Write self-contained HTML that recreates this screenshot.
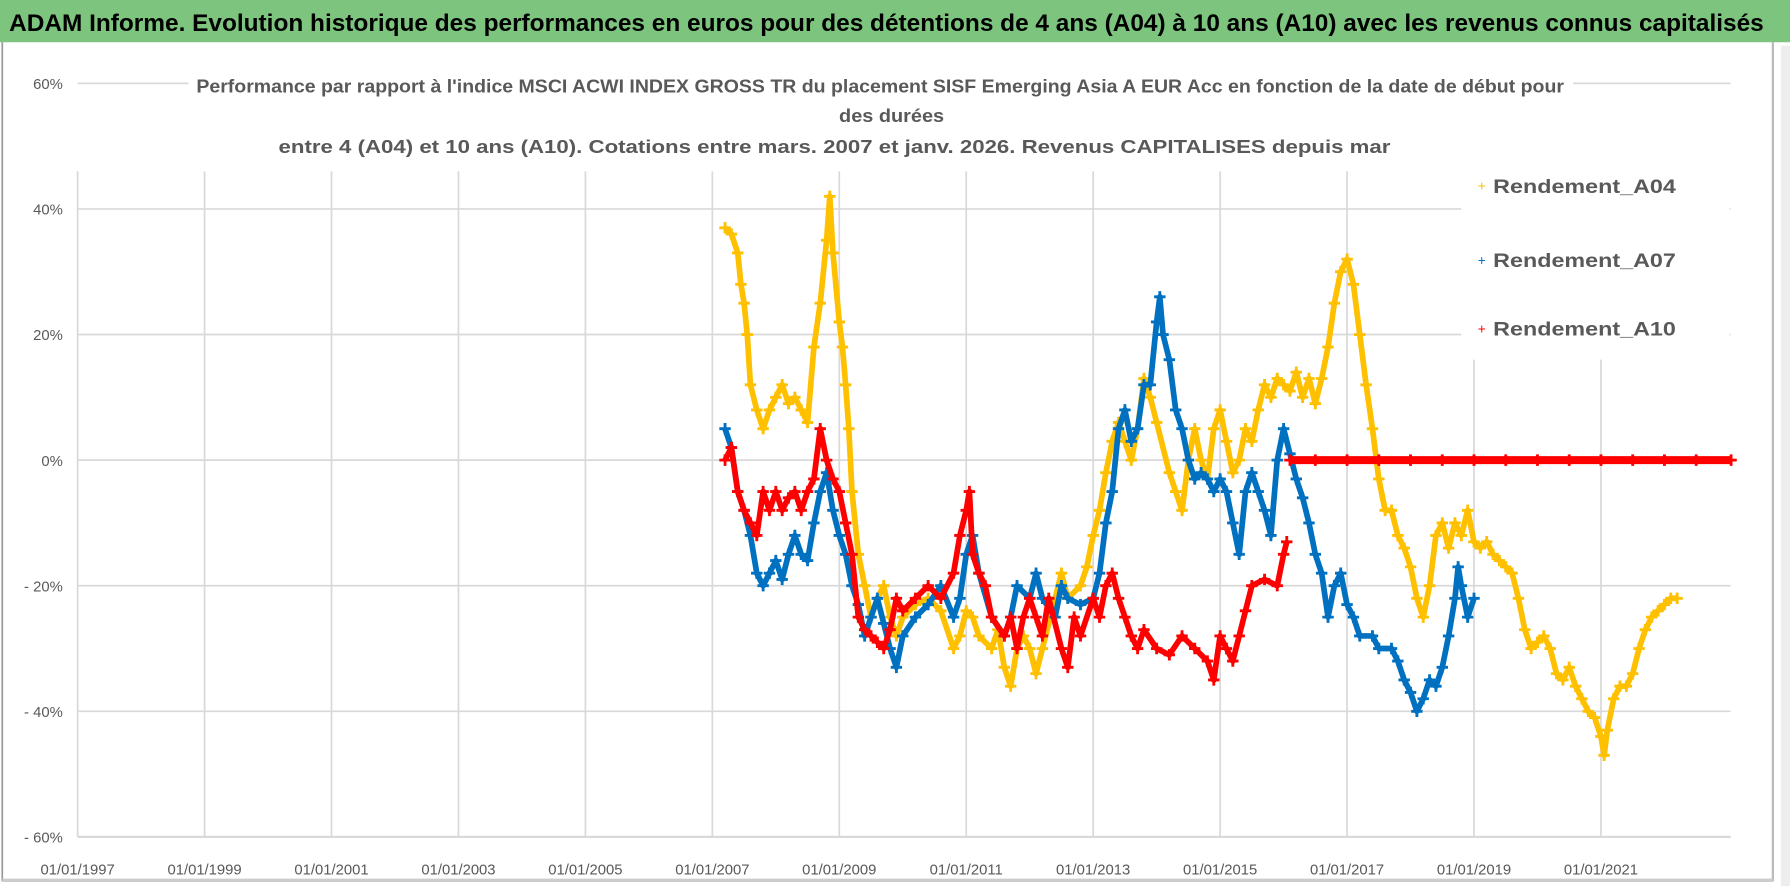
<!DOCTYPE html>
<html><head><meta charset="utf-8"><style>
html,body{margin:0;padding:0;background:#fff;}
svg{display:block;}
text{font-family:"Liberation Sans",sans-serif;}
</style></head><body>
<svg id="chart" width="1790" height="886" viewBox="0 0 1568 776" preserveAspectRatio="none" xmlns="http://www.w3.org/2000/svg">
<rect x="0" y="0" width="1568" height="776" fill="#fff"/>
<rect x="0" y="0" width="1568" height="37" fill="#7DC47E"/>
<text x="8" y="27" font-size="21" font-weight="bold" fill="#000" textLength="1537" lengthAdjust="spacingAndGlyphs">ADAM Informe. Evolution historique des performances en euros pour des détentions de 4 ans (A04) à 10 ans (A10) avec les revenus connus capitalisés</text>
<line x1="2" y1="37" x2="2" y2="772" stroke="#999" stroke-width="1.5"/>
<line x1="1553" y1="37" x2="1553" y2="772" stroke="#bbb" stroke-width="2"/>
<line x1="2" y1="771" x2="1553" y2="771" stroke="#ccc" stroke-width="3"/>
<rect x="1560" y="40" width="8" height="736" fill="#eee"/>
<g id="grid"></g>
<rect x="165" y="62" width="1213" height="88" fill="#fff"/>
<text x="771" y="81" font-size="16" font-weight="bold" fill="#595959" text-anchor="middle" textLength="1198" lengthAdjust="spacingAndGlyphs">Performance par rapport à l'indice MSCI ACWI INDEX GROSS TR  du placement SISF Emerging Asia A EUR Acc en fonction de la date de début pour</text>
<text x="781" y="107" font-size="16" font-weight="bold" fill="#595959" text-anchor="middle" textLength="92" lengthAdjust="spacingAndGlyphs">des durées</text>
<text x="731" y="134" font-size="16" font-weight="bold" fill="#595959" text-anchor="middle" textLength="974" lengthAdjust="spacingAndGlyphs">entre 4 (A04) et 10 ans (A10). Cotations entre mars. 2007 et janv. 2026. Revenus CAPITALISES depuis mar</text>
<g id="axes"></g>
<g id="series"></g>
<rect x="1280" y="140" width="235" height="175" fill="#fff"/>
<g><text x="1298" y="167" font-size="12" fill="#FFC000" text-anchor="middle">+</text><text x="1308" y="169" font-size="17" font-weight="bold" fill="#595959" textLength="160" lengthAdjust="spacingAndGlyphs">Rendement_A04</text></g>
<g><text x="1298" y="232" font-size="12" fill="#0070C0" text-anchor="middle">+</text><text x="1308" y="234" font-size="17" font-weight="bold" fill="#595959" textLength="160" lengthAdjust="spacingAndGlyphs">Rendement_A07</text></g>
<g><text x="1298" y="292" font-size="12" fill="#FF0000" text-anchor="middle">+</text><text x="1308" y="294" font-size="17" font-weight="bold" fill="#595959" textLength="160" lengthAdjust="spacingAndGlyphs">Rendement_A10</text></g>
</svg>
<script>
const yTickValues=[60,40,20,0,-20,-40,-60];
const yTickLabels=["60%","40%","20%","0%","- 20%","- 40%","- 60%"];
const xTickYears=[1997,1999,2001,2003,2005,2007,2009,2011,2013,2015,2017,2019,2021];
const xTickLabels=["01/01/1997","01/01/1999","01/01/2001","01/01/2003","01/01/2005","01/01/2007","01/01/2009","01/01/2011","01/01/2013","01/01/2015","01/01/2017","01/01/2019","01/01/2021"];
const a04Dates=[2007.2,2007.3,2007.4,2007.45,2007.5,2007.55,2007.6,2007.7,2007.8,2007.9,2008.0,2008.1,2008.2,2008.3,2008.4,2008.5,2008.6,2008.7,2008.8,2008.85,2008.9,2009.0,2009.05,2009.1,2009.15,2009.2,2009.3,2009.4,2009.5,2009.6,2009.7,2009.8,2009.9,2010.0,2010.2,2010.4,2010.6,2010.8,2010.9,2011.0,2011.1,2011.2,2011.4,2011.5,2011.6,2011.7,2011.8,2011.9,2012.0,2012.1,2012.2,2012.4,2012.5,2012.6,2012.8,2012.9,2013.0,2013.1,2013.2,2013.3,2013.4,2013.5,2013.6,2013.7,2013.8,2013.9,2014.0,2014.2,2014.3,2014.4,2014.5,2014.6,2014.7,2014.8,2014.9,2015.0,2015.1,2015.2,2015.3,2015.4,2015.5,2015.6,2015.7,2015.8,2015.9,2016.0,2016.1,2016.2,2016.3,2016.4,2016.5,2016.6,2016.7,2016.8,2016.9,2017.0,2017.1,2017.2,2017.3,2017.4,2017.5,2017.6,2017.7,2017.8,2017.9,2018.0,2018.1,2018.2,2018.3,2018.4,2018.5,2018.6,2018.7,2018.8,2018.9,2019.0,2019.1,2019.2,2019.3,2019.4,2019.5,2019.6,2019.7,2019.8,2019.9,2020.0,2020.1,2020.2,2020.3,2020.4,2020.5,2020.6,2020.7,2020.8,2020.9,2021.0,2021.05,2021.1,2021.2,2021.3,2021.4,2021.5,2021.6,2021.7,2021.8,2021.9,2022.0,2022.1,2022.2];
const a04Values=[37,36,33,28,25,20,12,8,5,8,10,12,9,10,8,6,18,25,35,42,33,22,18,12,5,-5,-15,-20,-25,-22,-20,-25,-28,-25,-23,-22,-24,-30,-28,-24,-25,-28,-30,-27,-33,-36,-30,-28,-30,-34,-30,-22,-18,-22,-20,-17,-12,-8,-2,3,6,3,0,5,13,10,6,-2,-5,-8,0,5,0,-3,5,8,3,-2,0,5,3,8,12,10,13,12,11,14,10,13,9,13,18,25,30,32,28,20,12,5,-3,-8,-8,-12,-14,-17,-22,-25,-20,-12,-10,-14,-10,-12,-8,-13,-14,-13,-15,-16,-17,-18,-22,-27,-30,-29,-28,-30,-34,-35,-33,-36,-38,-40,-41,-44,-47,-43,-38,-36,-36,-34,-30,-27,-25,-24,-23,-22,-22];
const a07Dates=[2007.2,2007.3,2007.4,2007.5,2007.6,2007.7,2007.8,2007.9,2008.0,2008.1,2008.2,2008.3,2008.4,2008.5,2008.6,2008.7,2008.8,2008.9,2009.0,2009.1,2009.2,2009.3,2009.4,2009.5,2009.6,2009.7,2009.8,2009.9,2010.0,2010.2,2010.4,2010.6,2010.8,2010.9,2011.0,2011.1,2011.2,2011.4,2011.6,2011.7,2011.8,2012.0,2012.1,2012.2,2012.4,2012.5,2012.6,2012.8,2013.0,2013.1,2013.2,2013.3,2013.4,2013.5,2013.6,2013.7,2013.8,2013.9,2014.0,2014.05,2014.1,2014.2,2014.3,2014.4,2014.5,2014.6,2014.7,2014.8,2014.9,2015.0,2015.1,2015.2,2015.3,2015.4,2015.5,2015.6,2015.7,2015.8,2015.9,2016.0,2016.1,2016.2,2016.3,2016.4,2016.5,2016.6,2016.7,2016.8,2016.9,2017.0,2017.1,2017.2,2017.4,2017.5,2017.7,2017.8,2017.9,2018.0,2018.1,2018.2,2018.3,2018.4,2018.5,2018.6,2018.7,2018.75,2018.8,2018.9,2019.0];
const a07Values=[5,2,-5,-8,-12,-18,-20,-18,-16,-19,-15,-12,-15,-16,-10,-5,-2,-8,-12,-15,-20,-23,-28,-25,-22,-26,-30,-33,-28,-25,-23,-20,-25,-22,-15,-12,-18,-25,-28,-25,-20,-22,-18,-22,-25,-20,-22,-23,-22,-18,-10,-5,5,8,3,5,12,12,22,26,20,16,8,5,0,-3,-2,-3,-5,-3,-5,-10,-15,-5,-2,-5,-8,-12,0,5,1,-3,-6,-10,-15,-18,-25,-20,-18,-23,-25,-28,-28,-30,-30,-32,-35,-37,-40,-38,-35,-36,-33,-28,-22,-17,-20,-25,-22];
const a10Dates=[2007.2,2007.3,2007.4,2007.5,2007.6,2007.7,2007.8,2007.9,2008.0,2008.1,2008.2,2008.3,2008.4,2008.5,2008.6,2008.7,2008.8,2008.9,2009.0,2009.1,2009.2,2009.3,2009.4,2009.5,2009.6,2009.7,2009.8,2009.9,2010.0,2010.2,2010.4,2010.6,2010.8,2010.9,2011.0,2011.05,2011.1,2011.2,2011.3,2011.4,2011.6,2011.7,2011.8,2011.9,2012.0,2012.1,2012.2,2012.3,2012.5,2012.6,2012.7,2012.8,2013.0,2013.1,2013.2,2013.3,2013.4,2013.5,2013.6,2013.7,2013.8,2014.0,2014.2,2014.4,2014.6,2014.8,2014.9,2015.0,2015.1,2015.2,2015.3,2015.4,2015.5,2015.7,2015.9,2016.0,2016.05];
const a10Values=[0,2,-5,-8,-10,-12,-5,-8,-5,-8,-6,-5,-8,-5,-3,5,0,-3,-5,-10,-15,-25,-27,-28,-29,-30,-27,-22,-24,-22,-20,-22,-18,-12,-8,-5,-15,-18,-20,-25,-28,-25,-30,-25,-22,-25,-28,-22,-30,-33,-25,-28,-22,-25,-20,-18,-22,-25,-28,-30,-27,-30,-31,-28,-30,-32,-35,-28,-30,-32,-28,-24,-20,-19,-20,-15,-13];
const a10FlatDates=[2016.1,2016.5,2017.0,2017.5,2018.0,2018.5,2019.0,2019.5,2020.0,2020.5,2021.0,2021.5,2022.0,2022.5,2023.05];
const a10FlatValues=[0,0,0,0,0,0,0,0,0,0,0,0,0,0,0];

const NS="http://www.w3.org/2000/svg";
const X0=68,X1=1516,YEAR0=1997,PXY=55.6;
function xScale(t){return X0+(t-YEAR0)*PXY;}
function yScale(v){return 403-v*5.5;}
function mk(tag,attrs,parent){const e=document.createElementNS(NS,tag);for(const k in attrs)e.setAttribute(k,attrs[k]);parent.appendChild(e);return e;}
const grid=document.getElementById('grid'),axes=document.getElementById('axes'),series=document.getElementById('series');
yTickValues.forEach((v,i)=>{
  const l=mk('line',{x1:X0,x2:X1,y1:yScale(v),y2:yScale(v),stroke:'#d9d9d9','stroke-width':1.5},grid);
  
  
  const t=mk('text',{x:55,y:yScale(v)+5,'font-size':13,fill:'#595959','text-anchor':'end'},axes);
  t.textContent=yTickLabels[i];
  
  
});
xTickYears.forEach((yr,i)=>{
  const l=mk('line',{x1:xScale(yr),x2:xScale(yr),y1:150,y2:yScale(-60),stroke:'#d9d9d9','stroke-width':1.5},grid);
  
  
  const t=mk('text',{x:xScale(yr),y:766,'font-size':13,fill:'#595959','text-anchor':'middle'},axes);
  t.textContent=xTickLabels[i];
  
  
});
const xl=mk('line',{x1:X0,x2:X1,y1:yScale(-60),y2:yScale(-60),stroke:'#d9d9d9','stroke-width':2},grid);


function drawSeries(dates,vals,color,name,lw){
  const g=mk('g',{},series);
  
  
  const pts=dates.map((d,i)=>xScale(d)+','+yScale(vals[i])).join(' ');
  mk('polyline',{points:pts,fill:'none',stroke:color,'stroke-width':lw,'stroke-linejoin':'round'},g);
  dates.forEach((d,i)=>{
    const x=xScale(d),y=yScale(vals[i]);
    const p=mk('path',{d:`M${x-5},${y}H${x+5}M${x},${y-5}V${y+5}`,stroke:color,'stroke-width':2.5},g);
    
    
  });
}
drawSeries(a04Dates,a04Values,'#FFC000','series-rendement-a04',5);
drawSeries(a07Dates,a07Values,'#0070C0','series-rendement-a07',5);
drawSeries(a10Dates,a10Values,'#FF0000','series-rendement-a10',5);
drawSeries(a10FlatDates,a10FlatValues,'#FF0000','series-rendement-a10-flat',7);
</script>
</body></html>
